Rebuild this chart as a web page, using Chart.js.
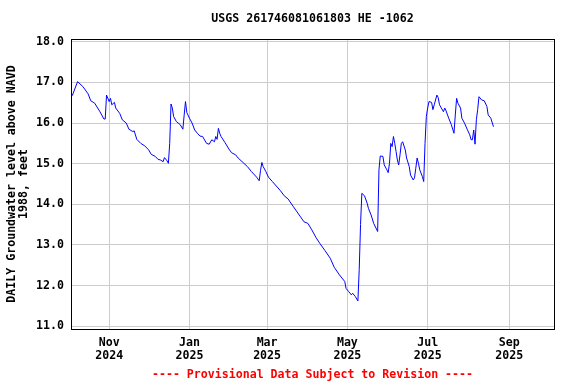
<!DOCTYPE html>
<html>
<head>
<meta charset="utf-8">
<script src="https://cdn.jsdelivr.net/npm/chart.js@4.4.1/dist/chart.umd.min.js"></script>
<style>
  html, body { margin: 0; padding: 0; background: #fff; }
</style>
</head>
<body>
<canvas id="gwChart" width="576" height="384"></canvas>
<script>
// daily values
var dates = [
    "2024-10-03", "2024-10-04", "2024-10-08", "2024-10-12", "2024-10-16", "2024-10-18", "2024-10-21", "2024-10-25",
    "2024-10-28", "2024-10-29", "2024-10-30", "2024-11-01", "2024-11-02", "2024-11-03", "2024-11-05", "2024-11-06",
    "2024-11-09", "2024-11-11", "2024-11-14", "2024-11-16", "2024-11-19", "2024-11-20", "2024-11-22", "2024-11-25",
    "2024-11-28", "2024-12-01", "2024-12-03", "2024-12-06", "2024-12-08", "2024-12-10", "2024-12-12", "2024-12-13",
    "2024-12-15", "2024-12-16", "2024-12-17", "2024-12-18", "2024-12-19", "2024-12-20", "2024-12-22", "2024-12-25",
    "2024-12-27", "2024-12-28", "2024-12-29", "2024-12-30", "2025-01-01", "2025-01-03", "2025-01-05", "2025-01-07",
    "2025-01-09", "2025-01-11", "2025-01-14", "2025-01-16", "2025-01-18", "2025-01-20", "2025-01-21", "2025-01-22",
    "2025-01-23", "2025-01-24", "2025-01-25", "2025-01-28", "2025-01-31", "2025-02-02", "2025-02-05", "2025-02-07",
    "2025-02-10", "2025-02-14", "2025-02-17", "2025-02-21", "2025-02-23", "2025-02-24", "2025-02-25", "2025-02-26",
    "2025-02-28", "2025-03-02", "2025-03-05", "2025-03-08", "2025-03-11", "2025-03-14", "2025-03-17", "2025-03-21",
    "2025-03-26", "2025-03-29", "2025-04-01", "2025-04-04", "2025-04-07", "2025-04-10", "2025-04-14", "2025-04-18",
    "2025-04-21", "2025-04-25", "2025-04-29", "2025-04-30", "2025-05-02", "2025-05-04", "2025-05-05", "2025-05-07",
    "2025-05-09", "2025-05-10", "2025-05-11", "2025-05-12", "2025-05-14", "2025-05-16", "2025-05-17", "2025-05-19",
    "2025-05-21", "2025-05-24", "2025-05-25", "2025-05-26", "2025-05-28", "2025-05-29", "2025-05-31", "2025-06-01",
    "2025-06-02", "2025-06-03", "2025-06-04", "2025-06-05", "2025-06-06", "2025-06-07", "2025-06-08", "2025-06-09",
    "2025-06-10", "2025-06-11", "2025-06-12", "2025-06-14", "2025-06-15", "2025-06-17", "2025-06-18", "2025-06-20",
    "2025-06-21", "2025-06-22", "2025-06-23", "2025-06-24", "2025-06-25", "2025-06-27", "2025-06-28", "2025-06-29",
    "2025-06-30", "2025-07-01", "2025-07-02", "2025-07-04", "2025-07-05", "2025-07-06", "2025-07-08", "2025-07-09",
    "2025-07-10", "2025-07-13", "2025-07-14", "2025-07-15", "2025-07-17", "2025-07-19", "2025-07-21", "2025-07-22",
    "2025-07-23", "2025-07-24", "2025-07-26", "2025-07-27", "2025-07-29", "2025-07-31", "2025-08-02", "2025-08-03",
    "2025-08-04", "2025-08-05", "2025-08-06", "2025-08-07", "2025-08-08", "2025-08-09", "2025-08-11", "2025-08-13",
    "2025-08-15", "2025-08-16", "2025-08-18", "2025-08-20"
];
var levels = [
    16.74, 16.68, 17.02, 16.90, 16.72, 16.55, 16.49, 16.28,
    16.10, 16.10, 16.69, 16.53, 16.61, 16.45, 16.51, 16.37,
    16.24, 16.08, 16.00, 15.85, 15.79, 15.81, 15.60, 15.50,
    15.44, 15.34, 15.23, 15.18, 15.11, 15.09, 15.05, 15.15,
    15.07, 15.01, 15.50, 16.47, 16.37, 16.16, 16.04, 15.96,
    15.85, 16.20, 16.53, 16.26, 16.12, 16.00, 15.83, 15.75,
    15.68, 15.67, 15.50, 15.48, 15.59, 15.54, 15.67, 15.60,
    15.87, 15.75, 15.67, 15.52, 15.36, 15.27, 15.22, 15.14,
    15.05, 14.93, 14.81, 14.67, 14.58, 14.83, 15.03, 14.93,
    14.81, 14.67, 14.56, 14.45, 14.34, 14.21, 14.13, 13.94,
    13.71, 13.57, 13.53, 13.37, 13.19, 13.04, 12.86, 12.67,
    12.45, 12.26, 12.10, 11.93, 11.85, 11.77, 11.81, 11.73,
    11.62, 12.40, 13.50, 14.27, 14.21, 14.03, 13.90, 13.74,
    13.53, 13.33, 14.85, 15.19, 15.18, 14.97, 14.85, 14.78,
    15.01, 15.50, 15.42, 15.67, 15.50, 15.30, 15.09, 14.97,
    15.22, 15.50, 15.54, 15.34, 15.14, 14.93, 14.72, 14.60,
    14.65, 14.89, 15.14, 15.01, 14.85, 14.68, 14.56, 15.50,
    16.16, 16.37, 16.53, 16.51, 16.33, 16.45, 16.69, 16.63,
    16.45, 16.28, 16.37, 16.30, 16.12, 15.96, 15.75, 16.20,
    16.61, 16.49, 16.37, 16.12, 16.00, 15.85, 15.71, 15.59,
    15.59, 15.83, 15.48, 16.08, 16.33, 16.65, 16.57, 16.55,
    16.41, 16.20, 16.12, 15.91
];
var tickDates = ["2024-11-01", "2025-01-01", "2025-03-01", "2025-05-01", "2025-07-01", "2025-09-01"];
var tickLabels = [["Nov", "2024"], ["Jan", "2025"], ["Mar", "2025"], ["May", "2025"], ["Jul", "2025"], ["Sep", "2025"]];
var yTicks = [11, 12, 13, 14, 15, 16, 17, 18];
var xStart = "2024-10-03";
var xEnd = "2025-10-05";

function dayNum(s) {
    return Date.parse(s + "T00:00:00Z") / 86400000;
}

var tickDays = tickDates.map(dayNum);
var points = dates.map(function (d, i) {
    return { x: dayNum(d), y: levels[i] };
});

Chart.defaults.font.family = "'DejaVu Sans Mono', monospace";
Chart.defaults.font.size = 11.6;
Chart.defaults.font.weight = "bold";
Chart.defaults.color = "#000";

// black box round the plot area
var frame = {
    id: "frame",
    afterDraw: function (chart) {
        var a = chart.chartArea;
        var c = chart.ctx;
        c.save();
        c.strokeStyle = "#000";
        c.lineWidth = 1;
        c.strokeRect(Math.round(a.left) + 0.5, Math.round(a.top) + 0.5,
            Math.round(a.right - a.left), Math.round(a.bottom - a.top));
        c.restore();
    }
};

var ctx = document.getElementById("gwChart").getContext("2d");
var gwChart = new Chart(ctx, {
    type: "line",
    data: {
        datasets: [{
            data: points,
            borderColor: "#0000ff",
            borderWidth: 1,
            pointRadius: 0,
            tension: 0,
            fill: false
        }]
    },
    options: {
        responsive: false,
        animation: false,
        devicePixelRatio: 1,
        layout: { padding: { left: 0, right: 22, top: 0, bottom: 0 } },
        plugins: {
            legend: { display: false },
            tooltip: { enabled: false },
            title: {
                display: true,
                text: "USGS 261746081061803 HE -1062",
                fullSize: false,
                color: "#000",
                font: { size: 11.6, weight: "bold", lineHeight: 1.2 },
                padding: { top: 12.5, bottom: 12.6 }
            },
            subtitle: {
                display: true,
                position: "bottom",
                text: "---- Provisional Data Subject to Revision ----",
                fullSize: false,
                color: "#ff0000",
                font: { size: 11.6, weight: "bold", lineHeight: 1.2 },
                padding: { top: 5.5, bottom: 2 }
            }
        },
        scales: {
            x: {
                type: "linear",
                min: dayNum(xStart),
                max: dayNum(xEnd),
                border: { display: false },
                grid: { color: "#cccccc", lineWidth: 1, drawTicks: false },
                afterBuildTicks: function (scale) {
                    scale.ticks = tickDays.map(function (v) { return { value: v }; });
                },
                afterFit: function (scale) {
                    scale.height = 33.6;
                },
                ticks: {
                    autoSkip: false,
                    maxRotation: 0,
                    padding: 8,
                    font: { size: 11.6, weight: "bold", lineHeight: 1.12 },
                    callback: function (value) {
                        var i = tickDays.indexOf(value);
                        return i >= 0 ? tickLabels[i] : "";
                    }
                }
            },
            y: {
                min: 10.93,
                max: 18.07,
                border: { display: false },
                grid: { color: "#cccccc", lineWidth: 1, drawTicks: false },
                afterBuildTicks: function (scale) {
                    scale.ticks = yTicks.map(function (v) { return { value: v }; });
                },
                afterFit: function (scale) {
                    scale.width = 71;
                },
                ticks: {
                    padding: 7,
                    callback: function (value) {
                        return value.toFixed(1);
                    }
                },
                title: {
                    display: true,
                    text: ["DAILY Groundwater level above NAVD", "1988, feet"],
                    color: "#000",
                    font: { size: 11.6, weight: "bold", lineHeight: 1.05 },
                    padding: { top: 5.9, bottom: 0 }
                }
            }
        }
    },
    plugins: [frame]
});
</script>
</body>
</html>
